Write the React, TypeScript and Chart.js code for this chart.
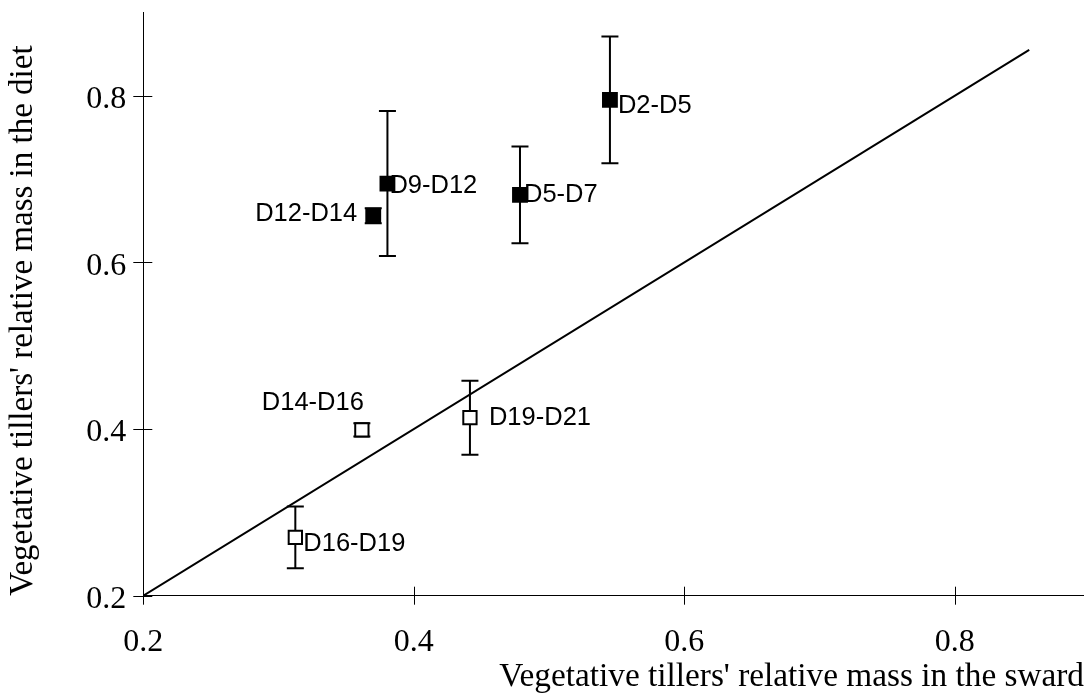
import React, { useEffect, useRef } from "react";
import { Chart, registerables } from "chart.js";

Chart.register(...registerables);

// ---- data ----
const periods = ["D2-D5", "D5-D7", "D9-D12", "D12-D14", "D14-D16", "D19-D21", "D16-D19"];
const swardMass = [0.545, 0.4785, 0.3805, 0.37, 0.3616, 0.4415, 0.3124];
const dietMass = [0.795, 0.681, 0.6946, 0.656, 0.399, 0.4136, 0.27];
const dietError = [0.076, 0.058, 0.087, 0.009, 0.008, 0.0445, 0.037];
const filledMarker = [true, true, true, true, false, false, false];
const xTickValues = [0.2, 0.4, 0.6, 0.8];
const yTickValues = [0.2, 0.4, 0.6, 0.8];
const identityRange = [0.2, 0.855];

// label placement (annotation layout, not data)
const labelLayout: Record<string, { align: CanvasTextAlign; dx: number; dy: number }> = {
  "D2-D5": { align: "left", dx: 8, dy: 6 },
  "D5-D7": { align: "left", dx: 4, dy: 0 },
  "D9-D12": { align: "left", dx: 2, dy: 2 },
  "D12-D14": { align: "right", dx: -16, dy: -2 },
  "D14-D16": { align: "right", dx: 2, dy: -27 },
  "D19-D21": { align: "left", dx: 19, dy: 0 },
  "D16-D19": { align: "left", dx: 8, dy: 7 },
};

const idx = periods.map((_, i) => i);
const filledIdx = idx.filter((i) => filledMarker[i]);
const openIdx = idx.filter((i) => !filledMarker[i]);

const errorBarPlugin = {
  id: "errorBars",
  beforeDatasetsDraw(chart: any) {
    const { ctx, scales } = chart;
    const xs = scales.x;
    const ys = scales.y;
    ctx.save();
    ctx.strokeStyle = "#000";
    ctx.lineWidth = 2;
    idx.forEach((i) => {
      const px = xs.getPixelForValue(swardMass[i]);
      const top = ys.getPixelForValue(dietMass[i] + dietError[i]);
      const bot = ys.getPixelForValue(dietMass[i] - dietError[i]);
      const cap = 8.5;
      ctx.beginPath();
      ctx.moveTo(px, top);
      ctx.lineTo(px, bot);
      ctx.moveTo(px - cap, top);
      ctx.lineTo(px + cap, top);
      ctx.moveTo(px - cap, bot);
      ctx.lineTo(px + cap, bot);
      ctx.stroke();
    });
    ctx.restore();
  },
};

const tickMarkPlugin = {
  id: "tickMarks",
  afterDraw(chart: any) {
    const { ctx, scales, chartArea } = chart;
    ctx.save();
    ctx.strokeStyle = "#000";
    ctx.lineWidth = 1;
    xTickValues.forEach((v) => {
      const px = Math.round(scales.x.getPixelForValue(v)) + 0.5;
      ctx.beginPath();
      ctx.moveTo(px, chartArea.bottom - 9);
      ctx.lineTo(px, chartArea.bottom + 9);
      ctx.stroke();
    });
    yTickValues.forEach((v) => {
      const py = Math.round(scales.y.getPixelForValue(v)) + 0.5;
      ctx.beginPath();
      ctx.moveTo(chartArea.left - 10, py);
      ctx.lineTo(chartArea.left + 9, py);
      ctx.stroke();
    });
    ctx.restore();
  },
};

const pointLabelPlugin = {
  id: "pointLabels",
  afterDatasetsDraw(chart: any) {
    const { ctx } = chart;
    ctx.save();
    ctx.fillStyle = "#000";
    ctx.font = '25.5px "Liberation Sans", Arial, sans-serif';
    ctx.textBaseline = "middle";
    [1, 2].forEach((dsIndex) => {
      const meta = chart.getDatasetMeta(dsIndex);
      const ids = dsIndex === 1 ? filledIdx : openIdx;
      meta.data.forEach((el: any, j: number) => {
        const name = periods[ids[j]];
        const lay = labelLayout[name];
        ctx.textAlign = lay.align;
        ctx.fillText(name, el.x + lay.dx, el.y + lay.dy);
      });
    });
    ctx.restore();
  },
};

const zeroPad = (s: any) => {
  s.paddingTop = 0;
  s.paddingBottom = 0;
  s.paddingLeft = 0;
  s.paddingRight = 0;
};

export default function App() {
  const ref = useRef<HTMLCanvasElement | null>(null);

  useEffect(() => {
    if (!ref.current) return;
    const serif = '"Liberation Serif", "Times New Roman", serif';
    const chart = new Chart(ref.current, {
      type: "scatter",
      data: {
        datasets: [
          {
            type: "line",
            data: identityRange.map((v) => ({ x: v, y: v })),
            borderColor: "#000",
            borderWidth: 2,
            pointRadius: 0,
            showLine: true,
            fill: false,
          } as any,
          {
            data: filledIdx.map((i) => ({ x: swardMass[i], y: dietMass[i] })),
            pointStyle: "rect",
            pointRadius: 11.2,
            backgroundColor: "#000",
            borderColor: "#000",
            borderWidth: 0,
          },
          {
            data: openIdx.map((i) => ({ x: swardMass[i], y: dietMass[i] })),
            pointStyle: "rect",
            pointRadius: 9.4,
            backgroundColor: "#fff",
            borderColor: "#000",
            borderWidth: 2,
          },
        ],
      },
      options: {
        responsive: false,
        animation: false,
        devicePixelRatio: 1,
        layout: { autoPadding: false, padding: { top: 12.4, left: 0, right: 0, bottom: 0 } },
        plugins: {
          legend: { display: false },
          tooltip: { enabled: false },
        },
        scales: {
          x: {
            type: "linear",
            min: 0.2,
            max: 0.8955,
            afterBuildTicks: (s: any) => {
              s.ticks = xTickValues.map((v) => ({ value: v }));
            },
            afterFit: (s: any) => {
              s.height = 104.3;
              zeroPad(s);
            },
            grid: { display: false, drawTicks: false },
            border: { display: true, color: "#000", width: 1 },
            ticks: {
              padding: 28,
              color: "#000",
              font: { family: serif, size: 32 },
              callback: (v: any) => Number(v).toFixed(1),
            },
            title: {
              display: true,
              text: "Vegetative tillers' relative mass in the sward",
              align: "end",
              color: "#000",
              font: { family: serif, size: 33.3 },
              padding: { top: 0, bottom: 3 },
            },
          },
          y: {
            type: "linear",
            min: 0.2,
            max: 0.9,
            afterBuildTicks: (s: any) => {
              s.ticks = yTickValues.map((v) => ({ value: v }));
            },
            afterFit: (s: any) => {
              s.width = 143.3;
              zeroPad(s);
            },
            grid: { display: false, drawTicks: false },
            border: { display: true, color: "#000", width: 1 },
            ticks: {
              padding: 17,
              labelOffset: 4,
              color: "#000",
              font: { family: serif, size: 32 },
              callback: (v: any) => Number(v).toFixed(1),
            },
            title: {
              display: true,
              text: "Vegetative tillers' relative mass in the diet",
              align: "start",
              color: "#000",
              font: { family: serif, size: 33 },
              padding: { top: 4, bottom: 0 },
            },
          },
        },
      },
      plugins: [errorBarPlugin, tickMarkPlugin, pointLabelPlugin],
    });
    return () => chart.destroy();
  }, []);

  return (
    <canvas
      ref={ref}
      width={1084}
      height={700}
      style={{ position: "absolute", left: 0, top: 0, display: "block", background: "#fff" }}
    />
  );
}
